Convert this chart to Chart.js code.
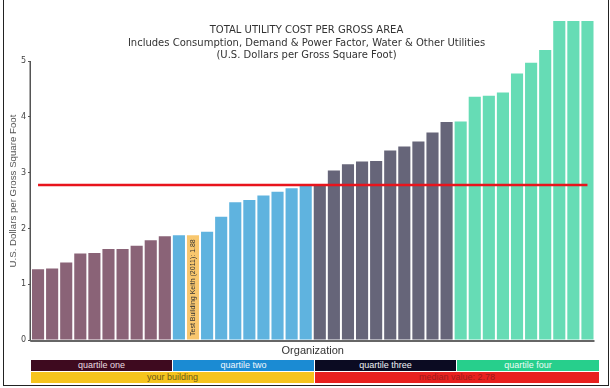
<!DOCTYPE html>
<html><head><meta charset="utf-8">
<script src="https://cdn.jsdelivr.net/npm/chart.js@4.4.0/dist/chart.umd.min.js"></script>
<style>
html,body{margin:0;padding:0;background:#fff;width:610px;height:388px;overflow:hidden;position:relative;font-family:"Liberation Sans",Arial,sans-serif;}
#wrap{position:absolute;left:0;top:0;width:610px;height:360px;}
#frame{position:absolute;left:3px;top:-5px;width:604px;height:389px;border:1px solid #222;pointer-events:none;}
.title{position:absolute;left:0;width:613px;text-align:center;font-family:"DejaVu Sans";font-size:10px;color:#333;line-height:12.5px;top:24px;}
.ytitle{position:absolute;left:-87px;top:185px;width:200px;height:12px;line-height:12px;text-align:center;font-size:9.7px;color:#555;transform:rotate(-90deg);transform-origin:50% 50%;}
.leg{position:absolute;height:11px;font-size:9px;line-height:11px;text-align:center;white-space:nowrap;}
</style></head>
<body>
<div id="wrap"><canvas id="c" width="610" height="360"></canvas></div>
<div class="title" id="title"></div>
<div class="ytitle" id="ytitle"></div>
<div id="legend"></div>
<div id="frame"></div>
<script>
// ---- data ----
const titleLines = ['TOTAL UTILITY COST PER GROSS AREA',
  'Includes Consumption, Demand & Power Factor, Water & Other Utilities',
  '(U.S. Dollars per Gross Square Foot)'];
const yAxisTitle = 'U.S. Dollars per Gross Square Foot';
const xAxisTitle = 'Organization';
const organizations = ['O1','O2','O3','O4','O5','O6','O7','O8','O9','O10',
  'O11','Test Building Keith (2011)','O13','O14','O15','O16','O17','O18','O19','O20',
  'O21','O22','O23','O24','O25','O26','O27','O28','O29','O30',
  'O31','O32','O33','O34','O35','O36','O37','O38','O39','O40'];
const costPerSqFt = [1.27,1.28,1.39,1.55,1.56,1.63,1.63,1.69,1.79,1.86,
  1.88,1.88,1.94,2.21,2.47,2.51,2.59,2.66,2.72,2.77,
  2.78,3.04,3.15,3.20,3.21,3.40,3.47,3.56,3.72,3.91,
  3.92,4.36,4.38,4.44,4.78,4.97,5.20,6.10,6.40,6.90];
const quartile = [1,1,1,1,1,1,1,1,1,1,
  2,2,2,2,2,2,2,2,2,2,
  3,3,3,3,3,3,3,3,3,3,
  4,4,4,4,4,4,4,4,4,4];
const yourBuildingIndex = 11;
const yourBuildingLabel = 'Test Building Keith (2011): 1.88';
const medianValue = 2.78;
const yTickValues = [0,1,2,3,4,5];
const quartileLabels = ['quartile one','quartile two','quartile three','quartile four'];
const yourBuildingText = 'your building';
const medianText = 'median value: 2.78';

// ---- styles ----
const barColor = {1:'#8a6377',2:'#5fb3df',3:'#666579',4:'#66dcb5'};
const yourColor = '#f8c76e';
const legendStyle = [
  {bg:'#3e0a1f',fg:'#eadde1'},{bg:'#1b8bd3',fg:'#f2f8fc'},
  {bg:'#0b0b22',fg:'#f0f0f4'},{bg:'#27cf8c',fg:'#effcf6'}];

document.getElementById('title').innerHTML = titleLines.map(t=>t.replace(/&/g,'&amp;')).join('<br>');
document.getElementById('ytitle').textContent = yAxisTitle;

const leg = document.getElementById('legend');
function addLeg(text,left,top,width,bg,fg){
  const d=document.createElement('div');d.className='leg';
  d.style.left=left+'px';d.style.top=top+'px';d.style.width=width+'px';
  d.style.background=bg;d.style.color=fg;d.textContent=text;leg.appendChild(d);
}
const segL=[31,173,315,457], segW=[141,141,141,142];
quartileLabels.forEach((t,i)=>addLeg(t,segL[i],360,segW[i],legendStyle[i].bg,legendStyle[i].fg));
addLeg(yourBuildingText,31,372,283,'#f6c41d','#6a5818');
addLeg(medianText,315,372,284,'#e8211f','#9b1b1b');

const colors = quartile.map((q,i)=> i===yourBuildingIndex ? yourColor : barColor[q]);

const overlay = {
  id:'overlay',
  afterDatasetsDraw(chart){
    const {ctx, scales:{x,y}, chartArea} = chart;
    ctx.save();
    const bar = chart.getDatasetMeta(0).data[yourBuildingIndex];
    ctx.save();
    ctx.translate(bar.x, y.getPixelForValue(0)-4);
    ctx.rotate(-Math.PI/2);
    ctx.font='7px "Liberation Sans", Arial, sans-serif';
    ctx.fillStyle='#333';ctx.textAlign='left';ctx.textBaseline='middle';
    ctx.fillText(yourBuildingLabel,0,0.5);
    ctx.restore();
    const ax = chartArea.left-0.75;
    ctx.strokeStyle='#555';ctx.lineWidth=1.5;
    ctx.beginPath();ctx.moveTo(ax,y.getPixelForValue(yTickValues[yTickValues.length-1]));
    ctx.lineTo(ax,y.getPixelForValue(0)+1);ctx.stroke();
    const by = y.getPixelForValue(0)+1;
    ctx.strokeStyle='#666';ctx.lineWidth=2;
    ctx.beginPath();ctx.moveTo(ax,by);ctx.lineTo(chartArea.right,by);ctx.stroke();
    const my = y.getPixelForValue(medianValue);
    ctx.strokeStyle='#e8141c';ctx.lineWidth=2.5;
    ctx.beginPath();ctx.moveTo(x.getPixelForValue(0),my);
    ctx.lineTo(x.getPixelForValue(organizations.length-1),my);ctx.stroke();
    ctx.restore();
  }
};

new Chart(document.getElementById('c'),{
  type:'bar',
  data:{labels:organizations,datasets:[{data:costPerSqFt,backgroundColor:colors,
    barPercentage:0.86,categoryPercentage:1,borderWidth:0}]},
  options:{
    responsive:false,animation:false,devicePixelRatio:1,
    layout:{padding:{left:0,right:15.5,top:21,bottom:0}},
    plugins:{legend:{display:false},tooltip:{enabled:false},title:{display:false}},
    scales:{
      x:{type:'category',ticks:{display:false},grid:{display:false},border:{display:false},
        title:{display:true,text:xAxisTitle,color:'#333',font:{family:'"Liberation Sans", Arial, sans-serif',size:11},padding:{top:0,bottom:2}},
        afterFit(s){s.height=20;}},
      y:{min:0,max:5.72,
        ticks:{stepSize:1,color:'#444',font:{family:'"DejaVu Sans", sans-serif',size:8},padding:2},
        afterBuildTicks(s){s.ticks=yTickValues.map(v=>({value:v}));},
        grid:{drawOnChartArea:false,drawTicks:true,tickLength:3,color:'#555',lineWidth:1},
        border:{display:false},
        afterFit(s){s.width=31;}}
    }
  },
  plugins:[overlay]
});
</script>
</body></html>
